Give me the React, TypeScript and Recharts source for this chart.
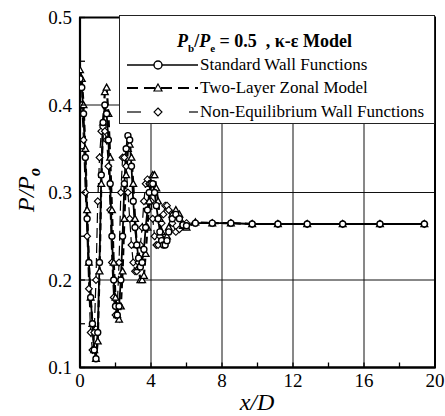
import React from "react"
import { CartesianGrid, Legend, Line, LineChart, ReferenceArea, XAxis, YAxis } from "recharts"

const SERIF = "Liberation Serif, Tinos, Times New Roman, Times, DejaVu Serif, serif"

const X_TICKS = [0, 2, 4, 6, 8, 10, 12, 14, 16, 18, 20]
const Y_TICKS = [0.1, 0.15, 0.2, 0.25, 0.3, 0.35, 0.4, 0.45, 0.5]
const X_GRID = [4, 8, 12, 16]
const Y_GRID = [0.2, 0.3, 0.4]

const X_NEAR = [
  0, 0.1, 0.2, 0.3, 0.4, 0.5, 0.6, 0.7, 0.8, 0.9, 1.0, 1.1, 1.2, 1.3, 1.4, 1.5, 1.6, 1.7, 1.8, 1.9, 2.0, 2.1, 2.2, 2.3,
  2.4, 2.5, 2.6, 2.7, 2.8, 2.9, 3.0, 3.1, 3.2, 3.3, 3.4, 3.5, 3.6, 3.7, 3.8, 3.9, 4.0, 4.1, 4.2, 4.3, 4.4, 4.5, 4.6,
  4.7, 4.8, 4.9, 5.0, 5.2, 5.4, 5.6, 5.8, 6.0, 6.5, 7.45, 8.5, 9.7, 11.15, 12.8, 14.8, 16.9, 19.4,
]

const P_STANDARD = [
  0.43, 0.42, 0.39, 0.34, 0.27, 0.22, 0.18, 0.15, 0.12, 0.11, 0.14, 0.22, 0.32, 0.38, 0.4, 0.39, 0.36, 0.31, 0.25, 0.2,
  0.17, 0.16, 0.17, 0.2, 0.25, 0.31, 0.35, 0.365, 0.36, 0.33, 0.29, 0.26, 0.24, 0.225, 0.215, 0.22, 0.235, 0.26, 0.28,
  0.3, 0.31, 0.31, 0.3, 0.285, 0.27, 0.255, 0.245, 0.24, 0.24, 0.245, 0.255, 0.27, 0.275, 0.27, 0.263, 0.262, 0.265,
  0.265, 0.265, 0.264, 0.264, 0.264, 0.264, 0.264, 0.264,
]

const P_TWO_LAYER = [
  0.44, 0.43, 0.4, 0.35, 0.28, 0.22, 0.18, 0.15, 0.12, 0.11, 0.13, 0.21, 0.31, 0.38, 0.415, 0.42, 0.39, 0.34, 0.28,
  0.22, 0.18, 0.16, 0.155, 0.17, 0.21, 0.27, 0.32, 0.35, 0.355, 0.34, 0.31, 0.27, 0.24, 0.215, 0.2, 0.2, 0.205, 0.23,
  0.26, 0.29, 0.31, 0.32, 0.32, 0.305, 0.29, 0.27, 0.255, 0.245, 0.245, 0.25, 0.26, 0.275, 0.28, 0.275, 0.262, 0.26,
  0.266, 0.265, 0.265, 0.264, 0.264, 0.264, 0.264, 0.264, 0.264,
]

const P_NON_EQ = [
  0.42, 0.4, 0.36, 0.3, 0.25, 0.19, 0.14, 0.12, 0.14, 0.2, 0.29, 0.34, 0.37, 0.375, 0.37, 0.36, 0.33, 0.28, 0.22, 0.18,
  0.16, 0.17, 0.22, 0.3, 0.34, 0.34, 0.33, 0.3, 0.27, 0.24, 0.22, 0.21, 0.21, 0.22, 0.24, 0.26, 0.29, 0.31, 0.315, 0.31,
  0.29, 0.27, 0.25, 0.24, 0.24, 0.25, 0.265, 0.275, 0.285, 0.285, 0.28, 0.265, 0.255, 0.258, 0.264, 0.265, 0.265,
  0.265, 0.265, 0.264, 0.264, 0.264, 0.264, 0.264, 0.264,
]

const toRows = (ys: number[]) => X_NEAR.map((x, i) => ({ x, p: ys[i] }))

const standardData = toRows(P_STANDARD)
const twoLayerData = toRows(P_TWO_LAYER)
const nonEqData = toRows(P_NON_EQ)

const triangleDot = (props: any) => {
  const { cx, cy, index } = props
  if (cx == null || cy == null) return <g key={`t${index}`} />
  const s = 3.4
  return (
    <path
      key={`t${index}`}
      d={`M${cx},${cy - s} L${cx + s},${cy + s * 0.8} L${cx - s},${cy + s * 0.8} Z`}
      fill="#fff"
      stroke="#000"
      strokeWidth={1.3}
    />
  )
}

const diamondDot = (props: any) => {
  const { cx, cy, index } = props
  if (cx == null || cy == null) return <g key={`d${index}`} />
  const s = 3.4
  return (
    <path
      key={`d${index}`}
      d={`M${cx},${cy - s} L${cx + s},${cy} L${cx},${cy + s} L${cx - s},${cy} Z`}
      fill="#fff"
      stroke="#000"
      strokeWidth={1.1}
    />
  )
}

const XTick = (props: any) => {
  const { x, y, payload } = props
  const v = payload.value
  return (
    <g>
      <line x1={x} x2={x} y1={y} y2={y - 5} stroke="#000" strokeWidth={1.3} />
      {v % 4 === 0 && (
        <text x={x} y={y + 19} textAnchor="middle" fontFamily={SERIF} fontSize={19} fill="#000">
          {v}
        </text>
      )}
    </g>
  )
}

const YTick = (props: any) => {
  const { x, y, payload } = props
  const v = payload.value
  const major = Math.abs(v * 10 - Math.round(v * 10)) < 1e-6
  return (
    <g>
      <line x1={x} x2={x + 5} y1={y} y2={y} stroke="#000" strokeWidth={1.3} />
      {major && (
        <text x={x - 8} y={y + 6.5} textAnchor="end" fontFamily={SERIF} fontSize={19} fill="#000">
          {v.toFixed(1)}
        </text>
      )}
    </g>
  )
}

function LegendBox() {
  const row = (top: number, sample: React.ReactNode, label: string) => (
    <div style={{ position: "absolute", left: 6, top, height: 18, display: "flex", alignItems: "center" }}>
      <svg width={73} height={18} style={{ display: "block" }}>
        {sample}
      </svg>
      <span style={{ fontSize: 17, marginLeft: 1, whiteSpace: "nowrap" }}>{label}</span>
    </div>
  )
  return (
    <div
      style={{
        position: "relative",
        width: 316,
        height: 109,
        boxSizing: "border-box",
        border: "1px solid #222",
        background: "#fff",
        fontFamily: SERIF,
        color: "#000",
      }}
    >
      <div
        style={{
          position: "absolute",
          left: 57,
          top: 15,
          fontSize: 18,
          fontWeight: "bold",
          whiteSpace: "nowrap",
          lineHeight: "20px",
        }}
      >
        <i>P</i>
        <sub style={{ fontSize: 11 }}>b</sub>/<i>P</i>
        <sub style={{ fontSize: 11 }}>e</sub> = 0.5&nbsp;&nbsp;, κ-ε Model
      </div>
      {row(
        40,
        <>
          <line x1={1} x2={72} y1={9} y2={9} stroke="#000" strokeWidth={1.6} />
          <circle cx={32} cy={9} r={4} fill="#fff" stroke="#000" strokeWidth={1.4} />
        </>,
        "Standard Wall Functions",
      )}
      {row(
        63,
        <>
          <line x1={1} x2={72} y1={9} y2={9} stroke="#000" strokeWidth={2.2} strokeDasharray="11 6" />
          <path d="M32,5 L36,12 L28,12 Z" fill="#fff" stroke="#000" strokeWidth={1.2} />
        </>,
        "Two-Layer Zonal Model",
      )}
      {row(
        87,
        <>
          <line x1={1} x2={15} y1={9} y2={9} stroke="#000" strokeWidth={1.2} />
          <line x1={63} x2={72} y1={9} y2={9} stroke="#000" strokeWidth={1.2} />
          <path d="M32,5 L36,9 L32,13 L28,9 Z" fill="#fff" stroke="#000" strokeWidth={1.1} />
        </>,
        "Non-Equilibrium Wall Functions",
      )}
    </div>
  )
}

export default function App() {
  return (
    <div style={{ position: "relative", width: 445, height: 416, background: "#fff" }}>
      <style>{"body{margin:0;background:#fff}"}</style>
      <LineChart width={445} height={416} margin={{ top: 17.5, right: 10, bottom: 18.5, left: 0 }}>
        <CartesianGrid
          horizontalValues={Y_GRID}
          verticalValues={X_GRID}
          stroke="#111"
          strokeWidth={1}
          strokeDasharray=""
        />
        <XAxis
          dataKey="x"
          type="number"
          domain={[0, 20]}
          ticks={X_TICKS}
          interval={0}
          height={30}
          tickSize={0}
          tickMargin={0}
          tickLine={false}
          axisLine={{ stroke: "#000", strokeWidth: 2.2 }}
          tick={<XTick />}
          allowDataOverflow
          label={{
            content: () => (
              <text x={257} y={410} textAnchor="middle" fontFamily={SERIF} fontSize={24} fontStyle="italic">
                x/D
              </text>
            ),
          }}
        />
        <YAxis
          type="number"
          domain={[0.1, 0.5]}
          ticks={Y_TICKS}
          interval={0}
          width={80}
          tickSize={0}
          tickMargin={0}
          tickLine={false}
          axisLine={{ stroke: "#000", strokeWidth: 2.2 }}
          tick={<YTick />}
          allowDataOverflow
          label={{
            content: () => (
              <text
                transform="translate(34,190) rotate(-90)"
                textAnchor="middle"
                fontFamily={SERIF}
                fontSize={24}
                fontStyle="italic"
              >
                P/P
                <tspan fontSize={16} dy={6} fontWeight="bold">
                  o
                </tspan>
              </text>
            ),
          }}
        />
        <ReferenceArea x1={0} x2={20} y1={0.1} y2={0.5} fill="none" stroke="#000" strokeWidth={2} />
        <Line
          data={nonEqData}
          dataKey="p"
          type="linear"
          stroke="#000"
          strokeWidth={1.2}
          strokeDasharray="10 5"
          dot={diamondDot}
          activeDot={false}
          isAnimationActive={false}
        />
        <Line
          data={twoLayerData}
          dataKey="p"
          type="linear"
          stroke="#000"
          strokeWidth={2.2}
          strokeDasharray="7 4"
          dot={triangleDot}
          activeDot={false}
          isAnimationActive={false}
        />
        <Line
          data={standardData}
          dataKey="p"
          type="linear"
          stroke="#000"
          strokeWidth={1.8}
          dot={{ r: 3, fill: "#fff", stroke: "#000", strokeWidth: 1.4 }}
          activeDot={false}
          isAnimationActive={false}
        />
        <Legend
          layout="horizontal"
          verticalAlign="middle"
          align="center"
          content={() => <LegendBox />}
          wrapperStyle={{ top: 15, left: 119, width: 316, height: 109 }}
        />
      </LineChart>
    </div>
  )
}
